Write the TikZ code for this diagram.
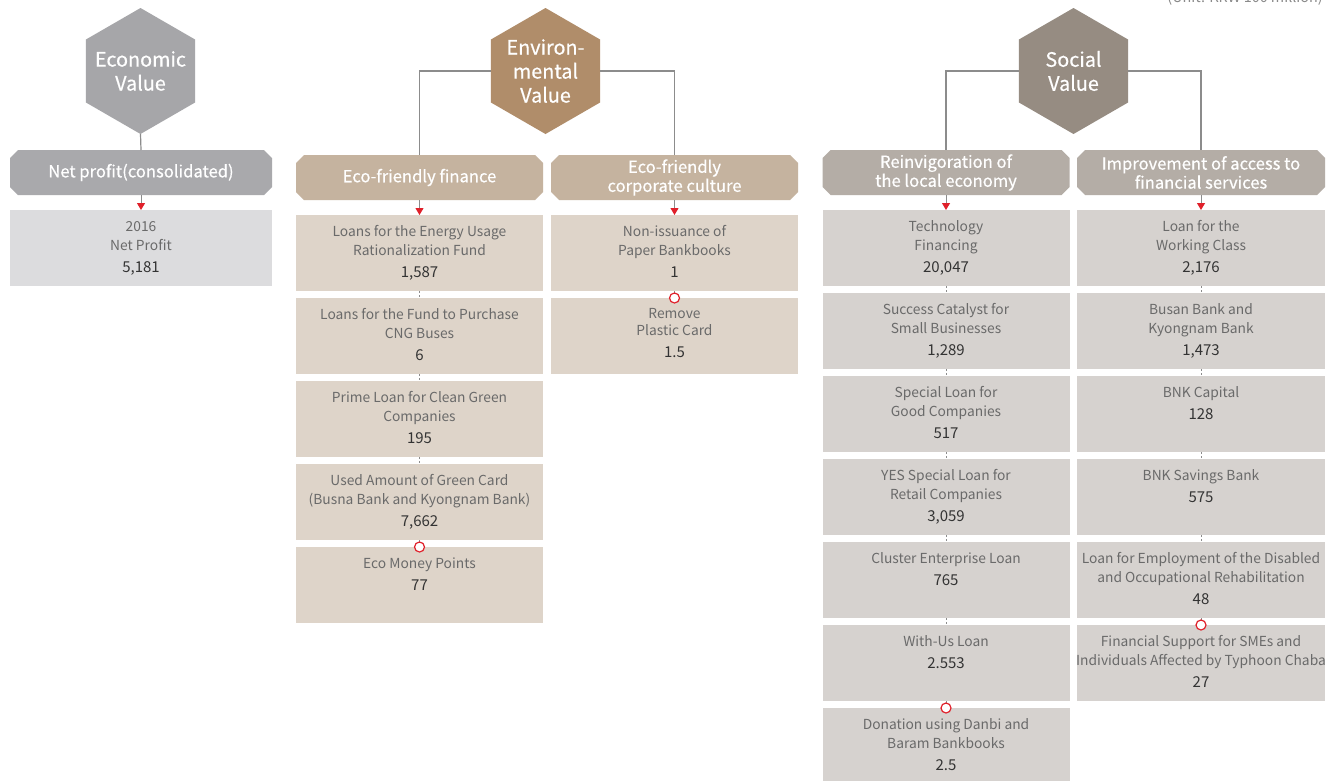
\documentclass[tikz,border=0pt]{standalone}
\usepackage{fontspec}
\setmainfont{Noto Sans CJK KR}
\newfontfamily\headfont{Noto Sans CJK KR}[FakeBold=0.5]
\usetikzlibrary{shapes.geometric,shapes.misc,arrows.meta,calc}

% palette
\definecolor{ecoHex}{HTML}{A6A6A9}
\definecolor{ecoHead}{HTML}{A9A9AC}
\definecolor{ecoCell}{HTML}{DCDCDE}
\definecolor{envHex}{HTML}{B08D6A}
\definecolor{envHead}{HTML}{C5B39F}
\definecolor{envCell}{HTML}{DED4C9}
\definecolor{socHex}{HTML}{968C82}
\definecolor{socHead}{HTML}{B4ADA6}
\definecolor{socCell}{HTML}{D6D2CF}
\definecolor{linegray}{HTML}{8C8C8C}
\definecolor{bodygray}{HTML}{6A6A6A}
\definecolor{numdark}{HTML}{333333}
\definecolor{tipred}{HTML}{E0202A}
\definecolor{unitgray}{HTML}{8A8A8A}

% text of a cell: description lines, then the amount
\newcommand\celltext[2]{\begin{tabular}[t]{@{}c@{}}#1\\[3pt]{\fontsize{15}{19}\selectfont\color{numdark}#2}\end{tabular}}

\tikzset{
  hexa/.style={regular polygon, regular polygon sides=6, shape border rotate=30,
    minimum size=126pt, inner sep=0pt, outer sep=0pt},
  hextext/.style={text=white, align=center, font=\headfont\fontsize{19.8}{24}\selectfont},
  headbox/.style={chamfered rectangle, chamfered rectangle xsep=4pt,
    chamfered rectangle ysep=4pt, minimum height=45pt, inner sep=0pt, outer sep=0pt,
    text=white, align=center, font=\headfont\fontsize{16.6}{19}\selectfont},
  cellbox/.style={rectangle, anchor=north, minimum height=76pt, inner sep=0pt, outer sep=0pt},
  body/.style={anchor=base, inner sep=0pt, text=bodygray, font=\fontsize{13.8}{19}\selectfont},
  link/.style={draw=linegray, line width=1.2pt},
  feed/.style={draw=linegray, line width=1pt, -{Triangle[width=8pt,length=7pt,color=tipred]}},
  gap/.style={draw=linegray, line width=0.9pt, dash pattern=on 2pt off 2pt},
  ring/.style={circle, draw=tipred, fill=white, line width=1.2pt, minimum size=10pt, inner sep=0pt},
}

\begin{document}
\begin{tikzpicture}[x=1pt,y=-1pt]
\path[use as bounding box, fill=white] (0,0) rectangle (1329,780);

\node[anchor=base east, inner sep=0pt, text=unitgray, font=\fontsize{14.4}{18}\selectfont]
  (unit) at (1323,2.5) {(Unit: KRW 100 million)};

% ---------------- Economic value ----------------
\node[hexa, fill=ecoHex] (eco) at (140.5,71) {};
\node[hextext] (ecoT) at (eco.center) {Economic\\Value};
\node[headbox, fill=ecoHead, minimum width=262pt] (ecoH) at (141,172.5) {Net profit(consolidated)};
\node[cellbox, fill=ecoCell, minimum width=262pt] (ecoC) at (141,210) {};
\node[body] (ecoCt) at ($(ecoC.north)+(0,21.5)$) {\celltext{2016\\Net Profit}{5,181}};
\draw[link] (eco.south) -- (ecoH.north);
\draw[feed] (ecoH.south) -- (ecoC.north);

% ---------------- Environmental value ----------------
\node[hexa, fill=envHex] (env) at (545.5,71) {};
\node[hextext] (envT) at (env.center) {Environ-\\mental\\Value};
\node[headbox, fill=envHead, minimum width=247pt] (envA) at (419.5,177.5) {Eco-friendly finance};
\node[headbox, fill=envHead, minimum width=247pt] (envB) at (674.5,177.5) {Eco-friendly\\corporate culture};

\node[cellbox, fill=envCell, minimum width=247pt] (envA1) at (419.5,215) {};
\node[cellbox, fill=envCell, minimum width=247pt] (envA2) at (419.5,298) {};
\node[cellbox, fill=envCell, minimum width=247pt] (envA3) at (419.5,381) {};
\node[cellbox, fill=envCell, minimum width=247pt] (envA4) at (419.5,464) {};
\node[cellbox, fill=envCell, minimum width=247pt] (envA5) at (419.5,547) {};
\node[cellbox, fill=envCell, minimum width=247pt] (envB1) at (674.5,215) {};
\node[cellbox, fill=envCell, minimum width=247pt] (envB2) at (674.5,298) {};

\node[body] at ($(envA1.north)+(0,21.5)$) {\celltext{Loans for the Energy Usage\\Rationalization Fund}{1,587}};
\node[body] at ($(envA2.north)+(0,21.5)$) {\celltext{Loans for the Fund to Purchase\\CNG Buses}{6}};
\node[body] at ($(envA3.north)+(0,21.5)$) {\celltext{Prime Loan for Clean Green\\Companies}{195}};
\node[body] at ($(envA4.north)+(0,21.5)$) {\celltext{Used Amount of Green Card\\(Busna Bank and Kyongnam Bank)}{7,662}};
\node[body] at ($(envA5.north)+(0,21.5)$) {\celltext{Eco Money Points}{77}};
\node[body] at ($(envB1.north)+(0,21.5)$) {\celltext{Non-issuance of\\Paper Bankbooks}{1}};
\node[body] at ($(envB2.north)+(0,20.5)$) {\celltext{Remove\\[-2pt]Plastic Card}{1.5}};

\draw[link] (env.west) -| (envA.north);
\draw[link] (env.east) -| (envB.north);
\draw[feed] (envA.south) -- (envA1.north);
\draw[feed] (envB.south) -- (envB1.north);

% ---------------- Social value ----------------
\node[hexa, fill=socHex] (soc) at (1073.5,71) {};
\node[hextext] (socT) at (soc.center) {Social\\Value};
\node[headbox, fill=socHead, minimum width=247pt] (socA) at (946,172.5) {Reinvigoration of\\the local economy};
\node[headbox, fill=socHead, minimum width=248pt] (socB) at (1201,172.5) {Improvement of access to\\financial services};

\node[cellbox, fill=socCell, minimum width=247pt] (socA1) at (946,210) {};
\node[cellbox, fill=socCell, minimum width=247pt] (socA2) at (946,293) {};
\node[cellbox, fill=socCell, minimum width=247pt] (socA3) at (946,376) {};
\node[cellbox, fill=socCell, minimum width=247pt] (socA4) at (946,459) {};
\node[cellbox, fill=socCell, minimum width=247pt] (socA5) at (946,542) {};
\node[cellbox, fill=socCell, minimum width=247pt] (socA6) at (946,625) {};
\node[cellbox, fill=socCell, minimum width=247pt] (socA7) at (946,708) {};
\node[cellbox, fill=socCell, minimum width=248pt] (socB1) at (1201,210) {};
\node[cellbox, fill=socCell, minimum width=248pt] (socB2) at (1201,293) {};
\node[cellbox, fill=socCell, minimum width=248pt] (socB3) at (1201,376) {};
\node[cellbox, fill=socCell, minimum width=248pt] (socB4) at (1201,459) {};
\node[cellbox, fill=socCell, minimum width=248pt] (socB5) at (1201,542) {};
\node[cellbox, fill=socCell, minimum width=248pt] (socB6) at (1201,625) {};

\node[body] at ($(socA1.north)+(0,21.5)$) {\celltext{Technology\\Financing}{20,047}};
\node[body] at ($(socA2.north)+(0,21.5)$) {\celltext{Success Catalyst for\\Small Businesses}{1,289}};
\node[body] at ($(socA3.north)+(0,21.5)$) {\celltext{Special Loan for\\Good Companies}{517}};
\node[body] at ($(socA4.north)+(0,21.5)$) {\celltext{YES Special Loan for\\Retail Companies}{3,059}};
\node[body] at ($(socA5.north)+(0,21.5)$) {\celltext{Cluster Enterprise Loan}{765}};
\node[body] at ($(socA6.north)+(0,21.5)$) {\celltext{With-Us Loan}{2.553}};
\node[body] at ($(socA7.north)+(0,21.5)$) {\celltext{Donation using Danbi and\\Baram Bankbooks}{2.5}};
\node[body] at ($(socB1.north)+(0,21.5)$) {\celltext{Loan for the\\Working Class}{2,176}};
\node[body] at ($(socB2.north)+(0,21.5)$) {\celltext{Busan Bank and\\Kyongnam Bank}{1,473}};
\node[body] at ($(socB3.north)+(0,21.5)$) {\celltext{BNK Capital}{128}};
\node[body] at ($(socB4.north)+(0,21.5)$) {\celltext{BNK Savings Bank}{575}};
\node[body] at ($(socB5.north)+(0,21.5)$) {\celltext{Loan for Employment of the Disabled\\and Occupational Rehabilitation}{48}};
\node[body] at ($(socB6.north)+(0,21.5)$) {\celltext{Financial Support for SMEs and\\Individuals Affected by Typhoon Chaba}{27}};

\draw[link] (soc.west) -| (socA.north);
\draw[link] (soc.east) -| (socB.north);
\draw[feed] (socA.south) -- (socA1.north);
\draw[feed] (socB.south) -- (socB1.north);

% ---------------- links between stacked cells ----------------
\foreach \a/\b in {envA1/envA2, envA2/envA3, envA3/envA4, envA4/envA5, envB1/envB2,
    socA1/socA2, socA2/socA3, socA3/socA4, socA4/socA5, socA5/socA6, socA6/socA7,
    socB1/socB2, socB2/socB3, socB3/socB4, socB4/socB5, socB5/socB6}
  \draw[gap] (\a.south) -- (\b.north);

% open ring marking the last entry of each column
\foreach \c in {envA5, envB2, socA7, socB6}
  \node[ring] at (\c.north) {};
\end{tikzpicture}
\end{document}
